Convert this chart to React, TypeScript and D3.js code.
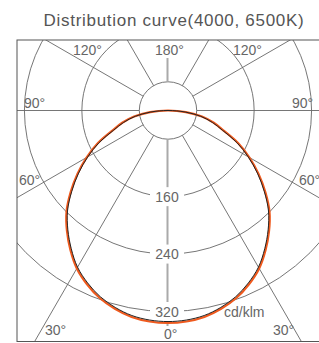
import React from 'react';
import * as d3 from 'd3';

// angle from nadir (deg), right half; left half is the mirror
const angles = [0, 5, 10, 15, 20, 25, 30, 35, 40, 45, 50, 55, 60, 65, 70, 75, 80, 85];
const cd4000 = [334, 333, 330, 324, 316, 305, 292, 275, 257, 238, 215, 192, 169, 146, 121, 104, 86, 64];
const cd6500 = [336, 335, 332, 326, 318, 307, 294, 277, 259, 240, 217, 194, 171, 148, 123, 106, 88, 65];

const ringValues = [80, 160, 240, 320];
const ringLabels = [160, 240, 320];
const spokeAngles = [30, 60, 90, 120, 150, -30, -60, -90, -120, -150];

const W = 319;
const H = 343;
const cx = 168;
const cy = 110.5;
const frame = { left: 17, top: 40, right: 320, bottom: 341.5 };

const font = 'Liberation Sans, Arial, Helvetica, sans-serif';
const gridColor = '#666';
const textColor = '#666';

const rScale = d3.scaleLinear().domain([40, 320]).range([0, 201]);

const toRad = (deg: number) => (deg * Math.PI) / 180;

function buildLoop(vals: number[]): [number, number][] {
  const right = angles.map((a, i) => [a, vals[i]] as [number, number]);
  const left = angles
    .slice(1)
    .map((a, i) => [-a, vals[i + 1]] as [number, number])
    .reverse();
  return [...right, [180, 40], ...left];
}

const radial = d3
  .lineRadial<[number, number]>()
  .angle(d => Math.PI - toRad(d[0]))
  .radius(d => rScale(d[1]))
  .curve(d3.curveCatmullRomClosed.alpha(0.5));

// point at angle (from nadir) and radius in px
const pt = (deg: number, r: number) => [cx + r * Math.sin(toRad(deg)), cy + r * Math.cos(toRad(deg))];

const angleLabels = [
  { t: '120°', x: 73, y: 55 },
  { t: '180°', x: 155, y: 55 },
  { t: '120°', x: 233, y: 55 },
  { t: '90°', x: 24, y: 108 },
  { t: '90°', x: 292, y: 108 },
  { t: '60°', x: 19, y: 185 },
  { t: '60°', x: 299, y: 185 },
  { t: '30°', x: 45, y: 335 },
  { t: '30°', x: 273, y: 335 },
  { t: '0°', x: 164, y: 339 },
];

export default function App() {
  const r0 = rScale(80);
  return (
    <svg width={W} height={H} style={{ position: 'absolute', left: 0, top: 0 }}>
      <defs>
        <clipPath id="frame">
          <rect x={frame.left} y={frame.top} width={frame.right - frame.left} height={frame.bottom - frame.top} />
        </clipPath>
      </defs>
      <text x={174} y={26} textAnchor="middle" fontFamily={font} fontSize={17} letterSpacing={0.7} fill="#555">
        Distribution curve(4000, 6500K)
      </text>
      <g clipPath="url(#frame)">
        {ringValues.map(v => (
          <circle key={v} cx={cx} cy={cy} r={rScale(v)} fill="none" stroke={gridColor} strokeWidth={0.9} />
        ))}
        {spokeAngles.map(a => {
          const [x1, y1] = pt(a, r0);
          const [x2, y2] = pt(a, 450);
          return <line key={a} x1={x1} y1={y1} x2={x2} y2={y2} stroke={gridColor} strokeWidth={0.9} />;
        })}
        <line x1={cx - 0.5} y1={cy - r0} x2={cx - 0.5} y2={58} stroke="#aaa" strokeWidth={2} />
        <line x1={cx - 0.5} y1={cy + r0} x2={cx - 0.5} y2={326} stroke="#aaa" strokeWidth={2} />
        {ringLabels.map(v => (
          <rect key={v} x={150} y={cy + rScale(v) - 9.5} width={34} height={19} fill="#fff" />
        ))}
        <path d={radial(buildLoop(cd6500)) || ''} transform={`translate(${cx},${cy})`} fill="none" stroke="#ef5a1e" strokeWidth={2.2} />
        <path d={radial(buildLoop(cd4000)) || ''} transform={`translate(${cx},${cy})`} fill="none" stroke="#222" strokeWidth={1} />
        {ringLabels.map(v => (
          <text key={v} x={167} y={cy + rScale(v) + 5} textAnchor="middle" fontFamily={font} fontSize={14} fill={textColor}>
            {v}
          </text>
        ))}
      </g>
      <rect
        x={frame.left}
        y={frame.top}
        width={frame.right - frame.left}
        height={frame.bottom - frame.top}
        fill="none"
        stroke="#555"
        strokeWidth={1}
      />
      {angleLabels.map((l, i) => (
        <text key={i} x={l.x} y={l.y} fontFamily={font} fontSize={14} fill={textColor}>
          {l.t}
        </text>
      ))}
      <text x={224} y={317} fontFamily={font} fontSize={14} fill={textColor}>
        cd/klm
      </text>
    </svg>
  );
}
